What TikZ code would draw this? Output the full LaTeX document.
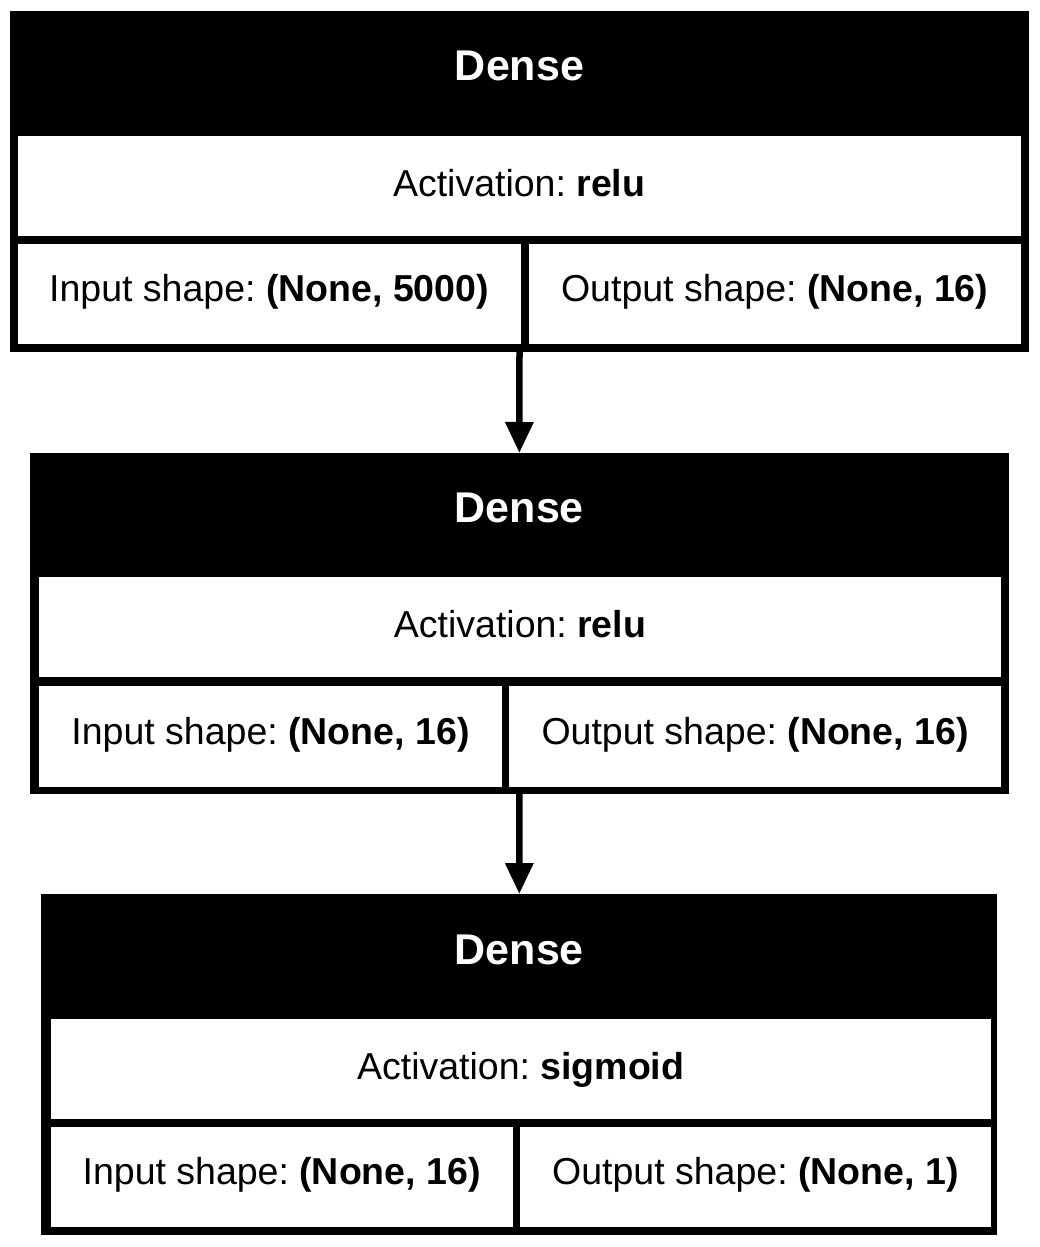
\documentclass[tikz,border=0pt]{standalone}
\usepackage{fontspec}
\setmainfont{Liberation Sans}
\usetikzlibrary{arrows.meta}

% rectangle node given by its two corners: name, style, x1, y1, x2, y2, text
\newcommand\cellbox[7]{%
  \node[#2, minimum width={#5pt-#3pt}, minimum height={#6pt-#4pt}]
    (#1) at ({(#3+#5)/2},{(#4+#6)/2}) {#7};}

\begin{document}
\begin{tikzpicture}[x=1pt, y=-1pt,
  layerframe/.style={fill=black, draw=none, inner sep=0pt, outer sep=0pt},
  headcell/.style={fill=black, draw=none, inner sep=0pt, outer sep=0pt,
    text=white, font=\fontsize{43}{50}\selectfont\bfseries,
    text height=31pt, text depth=16pt},
  actcell/.style={fill=white, draw=none, inner sep=0pt, outer sep=0pt,
    font=\fontsize{37.5}{44}\selectfont, text height=27pt, text depth=5.6pt},
  shapecell/.style={fill=white, draw=none, inner sep=0pt, outer sep=0pt,
    font=\fontsize{37.5}{44}\selectfont, text height=27pt, text depth=11.6pt},
  flow/.style={line width=6.5pt, -{Triangle[length=31pt, width=27pt]}}
]
\useasboundingbox[fill=white] (0,0) rectangle (1039,1247);

% first Dense layer
\cellbox{b1}{layerframe}{10}{11}{1029}{352}{}
\cellbox{h1}{headcell}{10}{11}{1029}{136}{Dense}
\cellbox{a1}{actcell}{17.5}{136}{1020.7}{236}{Activation:\ \textbf{relu}}
\cellbox{i1}{shapecell}{17.5}{244}{520.7}{344}{Input shape:\ \textbf{(None, 5000)}}
\cellbox{o1}{shapecell}{528.7}{244}{1020.7}{344}{Output shape:\ \textbf{(None, 16)}}

% second Dense layer
\cellbox{b2}{layerframe}{30}{453}{1008.7}{794}{}
\cellbox{h2}{headcell}{30}{453}{1008.7}{576.7}{Dense}
\cellbox{a2}{actcell}{39}{576.7}{1001}{677.3}{Activation:\ \textbf{relu}}
\cellbox{i2}{shapecell}{39}{686}{502}{786.7}{Input shape:\ \textbf{(None, 16)}}
\cellbox{o2}{shapecell}{509.3}{686}{1001}{786.7}{Output shape:\ \textbf{(None, 16)}}

% output Dense layer
\cellbox{b3}{layerframe}{41.3}{894}{997.3}{1234.7}{}
\cellbox{h3}{headcell}{41.3}{894}{997.3}{1019.3}{Dense}
\cellbox{a3}{actcell}{50.7}{1019.3}{990.7}{1118.7}{Activation:\ \textbf{sigmoid}}
\cellbox{i3}{shapecell}{50.7}{1126.7}{512.7}{1226.7}{Input shape:\ \textbf{(None, 16)}}
\cellbox{o3}{shapecell}{520}{1126.7}{990.7}{1226.7}{Output shape:\ \textbf{(None, 1)}}

% connections between layers
\draw[flow] (b1.south) -- (b2.north);
\draw[flow] (b2.south) -- (b3.north);
\end{tikzpicture}
\end{document}
